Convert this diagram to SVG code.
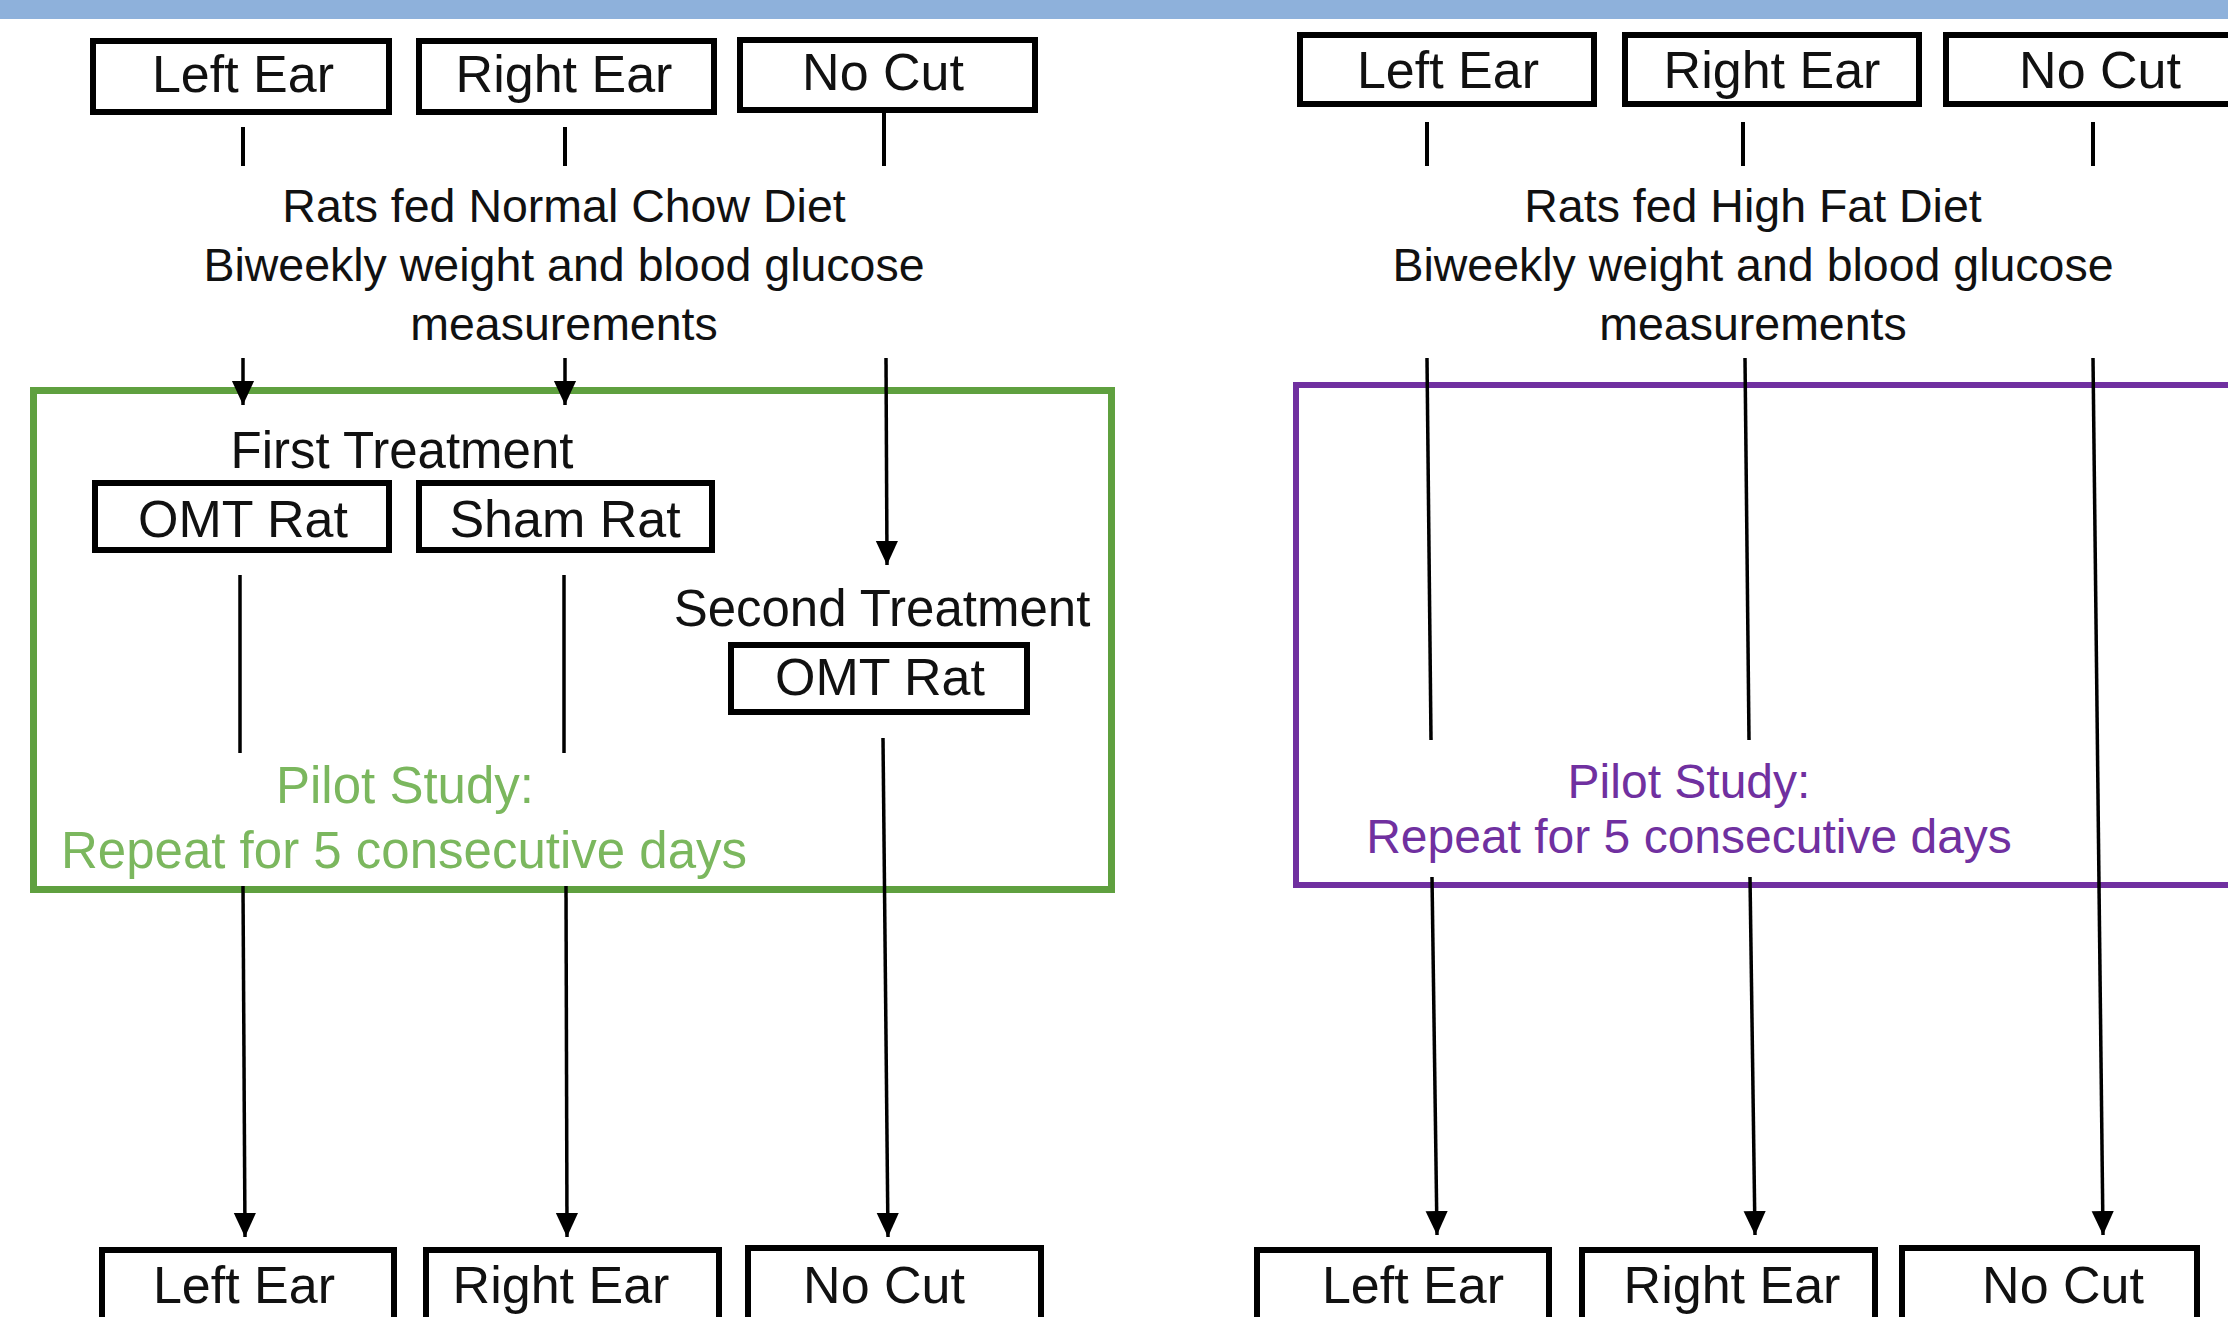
<svg xmlns="http://www.w3.org/2000/svg" width="2228" height="1317" viewBox="0 0 2228 1317">
<defs>
<style>
.bx{fill:#fff;stroke:#000;stroke-width:6}
.lb{font-family:"Liberation Sans",Arial,sans-serif;font-size:52px;fill:#111;text-anchor:middle}
.tx{font-family:"Liberation Sans",Arial,sans-serif;font-size:46.5px;fill:#111;text-anchor:middle}
.hd{font-family:"Liberation Sans",Arial,sans-serif;font-size:51px;fill:#111;text-anchor:middle}
.gt{font-family:"Liberation Sans",Arial,sans-serif;font-size:51px;fill:#7BB75E;text-anchor:middle}
.pt{font-family:"Liberation Sans",Arial,sans-serif;font-size:48px;fill:#7030A0;text-anchor:middle}
.ln{stroke:#000;stroke-width:3.5;fill:none}
.tk{stroke:#000;stroke-width:4;fill:none}
.ar{stroke:#000;stroke-width:3.5;fill:none;marker-end:url(#ah)}
</style>
<marker id="ah" markerUnits="userSpaceOnUse" markerWidth="24" markerHeight="26" refX="26" refY="12" orient="auto" viewBox="0 0 26 24">
<path d="M0,0 L26,12 L0,24 Z" fill="#000"/>
</marker>
</defs>
<rect x="0" y="0" width="2228" height="1317" fill="#fff"/>
<rect id="topband" x="0" y="0" width="2228" height="19" fill="#8EB1DB"/>

<g id="pilot-normal">
<rect x="33.5" y="390.5" width="1078" height="499" fill="none" stroke="#5FA03F" stroke-width="7"/>
<text class="gt" x="405" y="803">Pilot Study:</text>
<text class="gt" x="404" y="868">Repeat for 5 consecutive days</text>
</g>
<g id="pilot-highfat">
<rect x="1296" y="385" width="1000" height="500" fill="none" stroke="#7030A0" stroke-width="6"/>
<text class="pt" x="1689" y="798">Pilot Study:</text>
<text class="pt" x="1689" y="853">Repeat for 5 consecutive days</text>
</g>

<g id="connectors">
<line class="tk" x1="243" y1="127" x2="243" y2="166"/>
<line class="tk" x1="565" y1="127" x2="565" y2="166"/>
<line class="tk" x1="884" y1="112" x2="884" y2="166"/>
<line class="ar" x1="243" y1="358" x2="243" y2="405"/>
<line class="ar" x1="565" y1="358" x2="565" y2="405"/>
<line class="ar" x1="886" y1="358" x2="887" y2="565"/>
<line class="ln" x1="240" y1="575" x2="240" y2="753"/>
<line class="ln" x1="564" y1="575" x2="564" y2="753"/>
<line class="ar" x1="243" y1="886" x2="245" y2="1237"/>
<line class="ar" x1="566" y1="886" x2="567" y2="1237"/>
<line class="ar" x1="883" y1="738" x2="888" y2="1237"/>
<line class="tk" x1="1427" y1="122" x2="1427" y2="166"/>
<line class="tk" x1="1743" y1="122" x2="1743" y2="166"/>
<line class="tk" x1="2093" y1="122" x2="2093" y2="166"/>
<line class="ln" x1="1427" y1="358" x2="1431" y2="740"/>
<line class="ln" x1="1745" y1="358" x2="1749" y2="740"/>
<line class="ar" x1="2093" y1="358" x2="2103" y2="1235"/>
<line class="ar" x1="1432" y1="877" x2="1437" y2="1235"/>
<line class="ar" x1="1750" y1="877" x2="1755" y2="1235"/>
</g>

<g id="n-left-ear-1"><rect class="bx" x="93" y="41" width="296" height="71"/><text class="lb" x="243" y="92">Left Ear</text></g>
<g id="n-right-ear-1"><rect class="bx" x="419" y="41" width="295" height="71"/><text class="lb" x="564" y="92">Right Ear</text></g>
<g id="n-no-cut-1"><rect class="bx" x="740" y="40" width="295" height="70"/><text class="lb" x="883" y="90">No Cut</text></g>
<g id="n-diet-normal">
<text class="tx" x="564" y="222">Rats fed Normal Chow Diet</text>
<text class="tx" x="564" y="281">Biweekly weight and blood glucose</text>
<text class="tx" x="564" y="340">measurements</text>
</g>
<g id="n-first-treatment"><text class="hd" x="402" y="468">First Treatment</text></g>
<g id="n-omt-rat-1"><rect class="bx" x="95" y="483" width="294" height="67"/><text class="lb" x="243" y="537">OMT Rat</text></g>
<g id="n-sham-rat"><rect class="bx" x="419" y="483" width="293" height="67"/><text class="lb" x="565" y="537">Sham Rat</text></g>
<g id="n-second-treatment"><text class="hd" x="882" y="626">Second Treatment</text></g>
<g id="n-omt-rat-2"><rect class="bx" x="731" y="645" width="296" height="67"/><text class="lb" x="880" y="695">OMT Rat</text></g>
<g id="n-left-ear-2"><rect class="bx" x="102" y="1250" width="292" height="80"/><text class="lb" x="244" y="1303">Left Ear</text></g>
<g id="n-right-ear-2"><rect class="bx" x="426" y="1250" width="293" height="80"/><text class="lb" x="561" y="1303">Right Ear</text></g>
<g id="n-no-cut-2"><rect class="bx" x="748" y="1248" width="293" height="82"/><text class="lb" x="884" y="1303">No Cut</text></g>

<g id="n-left-ear-3"><rect class="bx" x="1300" y="35" width="294" height="69"/><text class="lb" x="1448" y="88">Left Ear</text></g>
<g id="n-right-ear-3"><rect class="bx" x="1625" y="35" width="294" height="69"/><text class="lb" x="1772" y="88">Right Ear</text></g>
<g id="n-no-cut-3"><rect class="bx" x="1946" y="35" width="300" height="69"/><text class="lb" x="2100" y="88">No Cut</text></g>
<g id="n-diet-highfat">
<text class="tx" x="1753" y="222">Rats fed High Fat Diet</text>
<text class="tx" x="1753" y="281">Biweekly weight and blood glucose</text>
<text class="tx" x="1753" y="340">measurements</text>
</g>
<g id="n-left-ear-4"><rect class="bx" x="1257" y="1250" width="292" height="80"/><text class="lb" x="1413" y="1303">Left Ear</text></g>
<g id="n-right-ear-4"><rect class="bx" x="1582" y="1250" width="293" height="80"/><text class="lb" x="1732" y="1303">Right Ear</text></g>
<g id="n-no-cut-4"><rect class="bx" x="1902" y="1248" width="295" height="82"/><text class="lb" x="2063" y="1303">No Cut</text></g>
</svg>
